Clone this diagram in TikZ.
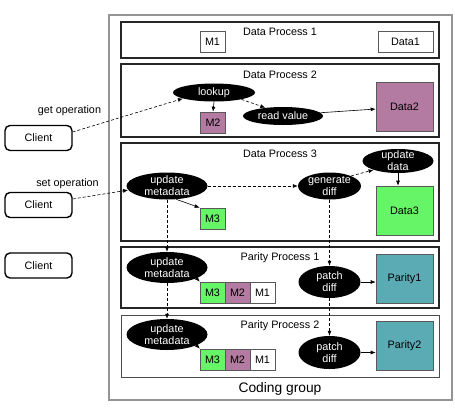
\documentclass[tikz,border=0pt]{standalone}
\usepackage{fontspec}
\setmainfont{Liberation Sans}
\usetikzlibrary{shapes.geometric,arrows.meta}
\definecolor{purp}{HTML}{B47BA2}
\definecolor{grn}{HTML}{66F566}
\definecolor{tealbox}{HTML}{5BABB4}
\tikzset{
  every node/.style={font=\fontsize{10.8}{12}\selectfont, inner sep=0pt},
  grp/.style={draw=black!42, line width=1.2pt},
  proc/.style={draw=black!85, line width=1.3pt},
  procthick/.style={draw=black!85, line width=1.8pt},
  procthin/.style={draw=black!70, line width=0.8pt},
  smallbox/.style={draw=black!65, line width=0.6pt, minimum width=25pt, minimum height=21pt},
  bigbox/.style={draw=black!65, line width=0.6pt, minimum width=57pt, minimum height=49pt},
  clientbox/.style={draw, line width=1.4pt, rounded corners=5pt, minimum width=67pt, minimum height=25pt},
  opell/.style={ellipse, fill=black},
  optext/.style={text=white, align=center},
  title/.style={anchor=base},
  arr/.style={-{Latex[length=5pt,width=4pt]}, line width=0.6pt},
  darr/.style={arr, dash pattern=on 3pt off 2pt},
}
\begin{document}
\begin{tikzpicture}[x=1pt,y=-1pt]
\useasboundingbox (0,0) rectangle (455,413);
% coding group
\node[grp, minimum width=343pt, minimum height=385pt] (cg) at (280.5,207.5) {};
\node[title, font=\fontsize{13.8}{16}\selectfont] (cgT) at (280,392) {Coding group};
% process boxes
\node[procthick, minimum width=318pt, minimum height=36pt] (dp1) at (280,40) {};
\node[proc, minimum width=318pt, minimum height=73pt] (dp2) at (280,100.5) {};
\node[proc, minimum width=318pt, minimum height=98pt] (dp3) at (280,192) {};
\node[procthick, minimum width=318pt, minimum height=61pt] (pp1) at (280,277.5) {};
\node[procthin, minimum width=318pt, minimum height=62pt] (pp2) at (280,346) {};
\node[title] (dp1T) at (280,35) {Data Process 1};
\node[title] (dp2T) at (280,78) {Data Process 2};
\node[title] (dp3T) at (280,157) {Data Process 3};
\node[title] (pp1T) at (280,260.5) {Parity Process 1};
\node[title] (pp2T) at (280,328) {Parity Process 2};
% clients
\node[clientbox] (c1) at (38.5,138) {Client};
\node[clientbox] (c2) at (38.5,205) {Client};
\node[clientbox] (c3) at (38.5,265.5) {Client};
\node[title] (getT) at (69.5,113.5) {get operation};
\node[title] (setT) at (67.5,186) {set operation};
% data process 1
\node[smallbox] (m1a) at (212.5,41.5) {M1};
\node[draw=black!65, line width=0.6pt, minimum width=55pt, minimum height=21pt] (d1) at (405.5,41.5) {Data1};
% data process 2
\node[opell, minimum width=82pt, minimum height=18pt] (lookup) at (214,92.5) {};
\node[optext] (lookupT) at (lookup) {lookup};
\node[smallbox, fill=purp] (m2a) at (213,122.5) {M2};
\node[opell, minimum width=80pt, minimum height=18pt] (rv) at (283,116) {};
\node[optext] (rvT) at (rv) {read value};
\node[bigbox, fill=purp] (d2) at (404.5,106.5) {Data2};
% data process 3
\node[opell, minimum width=81pt, minimum height=27pt] (um3) at (167,186) {};
\node[optext] (um3T) at (um3) {update\\metadata};
\node[smallbox, fill=grn] (m3a) at (212.5,218.5) {M3};
\node[opell, minimum width=63pt, minimum height=27pt] (gd) at (329.5,186) {};
\node[optext] (gdT) at (gd) {generate\\diff};
\node[opell, minimum width=71pt, minimum height=24pt] (ud) at (398,161) {};
\node[optext] (udT) at (ud) {update\\data};
\node[bigbox, fill=grn] (d3) at (404.5,210.5) {Data3};
% parity process 1
\node[opell, minimum width=81pt, minimum height=31pt] (um4) at (167,267.5) {};
\node[optext] (um4T) at (um4) {update\\metadata};
\node[smallbox, fill=grn] (m3b) at (212.5,292.5) {M3};
\node[smallbox, fill=purp] (m2b) at (237.5,292.5) {M2};
\node[smallbox, fill=white] (m1b) at (262.5,292.5) {M1};
\node[opell, minimum width=62pt, minimum height=32pt] (pd1) at (329.5,282) {};
\node[optext] (pd1T) at (pd1) {patch\\diff};
\node[bigbox, fill=tealbox] (par1) at (404.5,278.5) {Parity1};
% parity process 2
\node[opell, minimum width=81pt, minimum height=31pt] (um5) at (167,334.5) {};
\node[optext] (um5T) at (um5) {update\\metadata};
\node[smallbox, fill=grn] (m3c) at (212.5,359.5) {M3};
\node[smallbox, fill=purp] (m2c) at (237.5,359.5) {M2};
\node[smallbox, fill=white] (m1c) at (262.5,359.5) {M1};
\node[opell, minimum width=62pt, minimum height=33pt] (pd2) at (329.5,352.5) {};
\node[optext] (pd2T) at (pd2) {patch\\diff};
\node[bigbox, fill=tealbox] (par2) at (404.5,345.5) {Parity2};
% connectors
\draw[darr] (c1.10) -- (lookup.191);
\draw[arr] (lookup.south) -- (m2a.north);
\draw[darr] (lookup.-14) -- (rv.155);
\draw[arr] (rv.5) -- (d2.185);
\draw[darr] (c2.10) -- (um3.186);
\draw[arr] (um3.-55) -- (m3a.north west);
\draw[darr] (um3.east) -- (gd.west);
\draw[darr] (gd.25) -- (ud.200);
\draw[arr] (ud.south) -- (ud.south |- d3.north);
\draw[darr] (gd.south) -- (pd1.north);
\draw[darr] (um3.south) -- (um4.north);
\draw[arr] (um4.-20) -- (m3b.north west);
\draw[arr] (pd1.east) -- (pd1.east -| par1.west);
\draw[darr] (um4.south) -- (um5.north);
\draw[darr] (pd1.south) -- (pd2.north);
\draw[arr] (um5.-20) -- (m3c.north west);
\draw[arr] (pd2.east) -- (pd2.east -| par2.west);
\end{tikzpicture}
\end{document}
